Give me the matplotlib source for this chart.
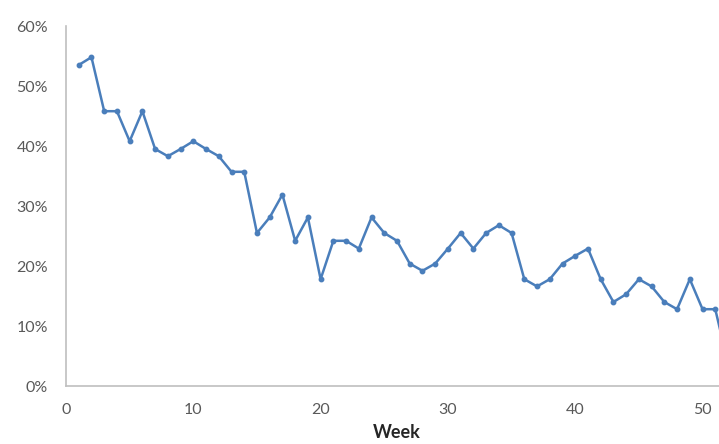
import matplotlib
matplotlib.use("Agg")
import matplotlib.pyplot as plt
from matplotlib.ticker import PercentFormatter

# Weekly share, in percent
weeks = list(range(1, 53))
share = [53.5, 54.8, 45.8, 45.8, 40.8, 45.8, 39.5, 38.3, 39.5, 40.8,
         39.5, 38.3, 35.7, 35.7, 25.5, 28.1, 31.9, 24.2, 28.1, 17.8,
         24.2, 24.2, 22.9, 28.1, 25.5, 24.2, 20.4, 19.2, 20.4, 22.9,
         25.5, 22.9, 25.5, 26.8, 25.5, 17.8, 16.6, 17.8, 20.4, 21.7,
         22.9, 17.8, 14.0, 15.3, 17.8, 16.6, 14.0, 12.8, 17.8, 12.8,
         12.8, 3.8]

x_ticks = [0, 10, 20, 30, 40, 50]
y_ticks = [0, 10, 20, 30, 40, 50, 60]

W, H = 719, 444
fig = plt.figure(figsize=(W / 100, H / 100), dpi=100)
left, right, bottom, top = 66, 728, 386, 26
ax = fig.add_axes([left / W, (H - bottom) / H, (right - left) / W, (bottom - top) / H])

line_color = "#4A7EBB"
ax.plot(weeks, share, color=line_color, lw=1.8, marker="o", ms=3.2,
        markerfacecolor=line_color, markeredgecolor=line_color, clip_on=True)

ax.set_xlim(0, 52)
ax.set_ylim(0, 60)
ax.set_xticks(x_ticks)
ax.set_yticks(y_ticks)
ax.yaxis.set_major_formatter(PercentFormatter(decimals=0))

for side in ("top", "right"):
    ax.spines[side].set_visible(False)
for side in ("left", "bottom"):
    ax.spines[side].set_color("#BFBFBF")
    ax.spines[side].set_linewidth(1.2)

ax.tick_params(axis="both", length=0, labelsize=11.5, labelcolor="#595959")
ax.tick_params(axis="y", pad=13)
ax.tick_params(axis="x", pad=12)
for lbl in ax.get_xticklabels() + ax.get_yticklabels():
    lbl.set_family("Lato")

ax.set_xlabel("Week", fontsize=13, fontweight="bold", family="Lato",
              color="#262626", labelpad=5)

fig.savefig("out.png", dpi=100)
